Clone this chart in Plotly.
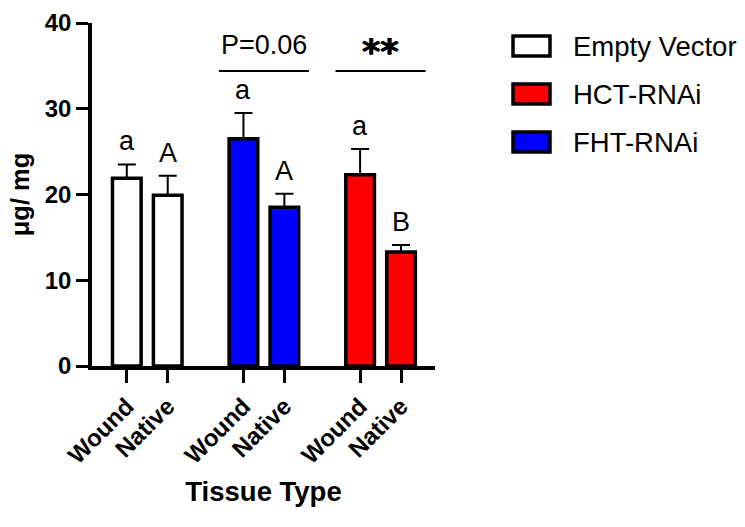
import plotly.graph_objects as go

# ---- data ----
genotypes = ["Empty Vector", "FHT-RNAi", "HCT-RNAi"]          # plotting order
legend_order = ["Empty Vector", "HCT-RNAi", "FHT-RNAi"]
colors = {"Empty Vector": "#FFFFFF", "HCT-RNAi": "#FF0000", "FHT-RNAi": "#0000FF"}
tissues = ["Wound", "Native"]
means = {
    "Empty Vector": [21.9, 19.9],
    "FHT-RNAi": [26.5, 18.5],
    "HCT-RNAi": [22.3, 13.3],
}
sems = {
    "Empty Vector": [1.6, 2.3],
    "FHT-RNAi": [3.0, 1.6],
    "HCT-RNAi": [3.0, 0.8],
}
letters = {
    "Empty Vector": ["a", "A"],
    "FHT-RNAi": ["a", "A"],
    "HCT-RNAi": ["a", "B"],
}
sig_labels = {"FHT-RNAi": "P=0.06", "HCT-RNAi": "**"}
sig_level = 34.4
y_ticks = [0, 10, 20, 30, 40]

# ---- layout constants ----
PITCH = 2.85
BAR_W = 0.7
FONT = "Liberation Sans, Arial, sans-serif"
W, H = 745, 527
L_PX, R_PX, T_PX, B_PX = 92, 435, 23, 366

def xpos(g, i):
    return g * PITCH + i

fig = go.Figure()
tickvals, ticktext = [], []
annotations = []
shapes = []
for g, name in enumerate(genotypes):
    xs = [xpos(g, i) for i in range(len(tissues))]
    tickvals += xs
    ticktext += tissues
    fig.add_trace(go.Bar(
        x=xs, y=means[name], width=BAR_W, name=name,
        marker=dict(color=colors[name], line=dict(color="black", width=3.5)),
        error_y=dict(type="data", symmetric=False, array=sems[name],
                     arrayminus=[0] * len(xs), color="black", thickness=2, width=9),
        showlegend=False, hoverinfo="skip",
    ))
    for x, m, s, lab in zip(xs, means[name], sems[name], letters[name]):
        annotations.append(dict(x=x, y=m + s, text=lab, showarrow=False,
                                xref="x", yref="y", yanchor="bottom", yshift=6,
                                font=dict(family=FONT, size=27, color="black")))
    if name in sig_labels:
        x0, x1 = xs[0] - 0.6, xs[-1] + 0.6
        shapes.append(dict(type="line", xref="x", yref="y", x0=x0, x1=x1,
                           y0=sig_level, y1=sig_level, line=dict(color="black", width=2)))
        stars = sig_labels[name] == "**"
        annotations.append(dict(x=(xs[0] + xs[-1]) / 2, y=sig_level,
                                text=("<b>%s</b>" % sig_labels[name]) if stars else sig_labels[name],
                                showarrow=False, xref="x", yref="y", yanchor="bottom",
                                yshift=-3 if stars else 9,
                                font=dict(family="DejaVu Sans" if stars else FONT,
                                          size=35 if stars else 27, color="black",
                                          shadow="0.6px 0px 0px black, -0.6px 0px 0px black" if stars else "none")))

# ---- manual legend ----
def px2paper_x(px):
    return (px - L_PX) / (R_PX - L_PX)

def px2paper_y(py):
    return (B_PX - py) / (B_PX - T_PX)

for k, name in enumerate(legend_order):
    cy = 46 + 48 * k
    shapes.append(dict(type="rect", xref="paper", yref="paper",
                       x0=px2paper_x(513), x1=px2paper_x(550),
                       y0=px2paper_y(cy - 10), y1=px2paper_y(cy + 10),
                       fillcolor=colors[name], line=dict(color="black", width=3.5)))
    annotations.append(dict(x=px2paper_x(571), y=px2paper_y(cy), xref="paper", yref="paper",
                            text=name, showarrow=False, xanchor="left", yanchor="middle",
                            font=dict(family=FONT, size=27.5, color="black")))

fig.update_layout(
    width=W, height=H,
    margin=dict(l=L_PX, r=W - R_PX, t=T_PX, b=H - B_PX, pad=0),
    plot_bgcolor="white", paper_bgcolor="white",
    barmode="overlay",
    annotations=annotations, shapes=shapes,
    font=dict(family=FONT, color="black"),
)
fig.update_xaxes(
    automargin=False,
    range=[-0.85, xpos(2, 1) + 0.83],
    tickvals=tickvals, ticktext=["<b>%s</b>" % t for t in ticktext],
    tickangle=-45, tickfont=dict(family=FONT, size=24, color="black"),
    ticks="outside", ticklen=13, tickwidth=3, tickcolor="black",
    showline=True, linewidth=3.5, linecolor="black", showgrid=False, zeroline=False,
    title=dict(text="<b>Tissue Type</b>", font=dict(family=FONT, size=27.5, color="black"), standoff=15),
)
fig.update_yaxes(
    automargin=False,
    range=[0, 40], tickvals=y_ticks, ticktext=["<b>%d</b>" % v for v in y_ticks],
    tickfont=dict(family=FONT, size=24, color="black"),
    ticks="outside", ticklen=12, tickwidth=3, tickcolor="black",
    showline=True, linewidth=3.5, linecolor="black", showgrid=False, zeroline=False,
    title=dict(text="<b>μg/ mg</b>", font=dict(family=FONT, size=25.5, color="black"), standoff=9),
)
fig.write_html("out.html", config={"displayModeBar": False},
               post_script="document.body.style.margin='0';")
